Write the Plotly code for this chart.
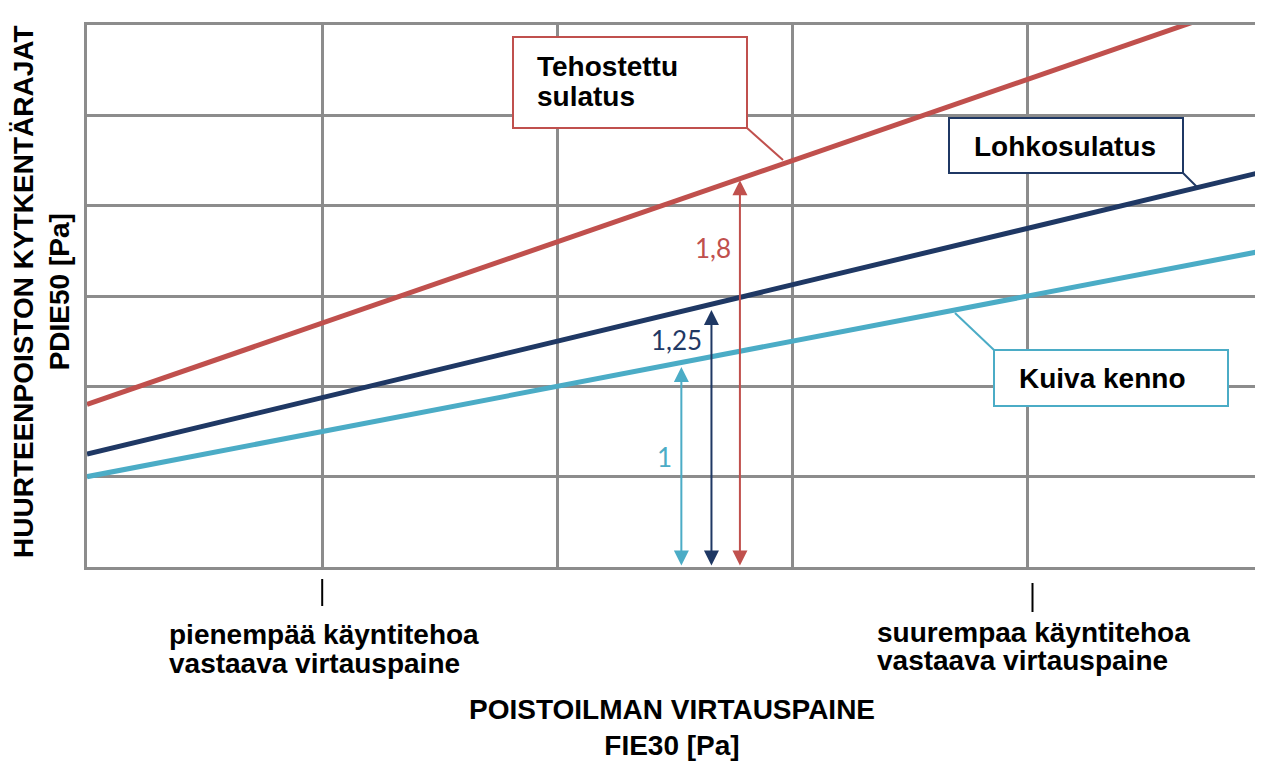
import plotly.graph_objects as go

# ---- data ----
x_ends = [0, 5]
kuiva_kenno = [1.0, 3.5]
lohkosulatus = [1.25, 4.375]
tehostettu = [1.8, 6.3]

arrow_x = [2.527, 2.655, 2.776]
arrow_top = [2.214, 2.845, 4.28]
arrow_labels = ["1", "1,25", "1,8"]
label_x = [2.457, 2.507, 2.66]
label_y = [1.22, 2.51, 3.53]

marker_x = [1.0, 4.02]

C_RED = "#C0504D"
C_NAVY = "#1F3864"
C_CYAN = "#4BACC6"
GRID = "#8c8c8c"

# the page adds an 8px body margin; compensate so positions match the window
OFF = 8
W, H = 1263 - OFF, 761 - OFF
L, R, T, B = 87 - OFF, 0, 25 - OFF, 761 - 567
PW, PH = W - L - R, H - T - B
XR, YR = (0, 5), (0, 6)


# helpers take window pixel coordinates (as measured on the reference)
def dx(px):
    return XR[0] + (px - OFF - L) / PW * (XR[1] - XR[0])


def dy(py):
    return YR[0] + (T + PH - (py - OFF)) / PH * (YR[1] - YR[0])


def py_paper(py):
    return (T + PH - (py - OFF)) / PH


def pxp(px):
    return (px - OFF - L) / PW


fig = go.Figure()
for ys, col, name in [(kuiva_kenno, C_CYAN, "Kuiva kenno"),
                      (lohkosulatus, C_NAVY, "Lohkosulatus"),
                      (tehostettu, C_RED, "Tehostettu sulatus")]:
    fig.add_trace(go.Scatter(x=x_ends, y=ys, mode="lines", name=name,
                             line=dict(color=col, width=5), hoverinfo="skip"))

shapes = []
annotations = []

FAM = "Liberation Sans, Arial, sans-serif"
BOLD = dict(family=FAM, size=28, color="black")
TITLE = dict(family=FAM, size=28, color="black")

# callout boxes: (x0, y0, x1, y1) in pixels, colour, connector from, connector to
boxes = [
    ((513, 37, 747, 128), C_RED, (747, 128), (783, 160)),
    ((949, 118, 1183, 173), C_NAVY, (1183, 173), (1198, 188)),
    ((994, 350, 1228, 406), C_CYAN, (994, 350), (955, 313)),
]
for (x0, y0, x1, y1), col, (ax0, ay0), (ax1, ay1) in boxes:
    shapes.append(dict(type="line", xref="x", yref="y",
                       x0=dx(ax0), y0=dy(ay0), x1=dx(ax1), y1=dy(ay1),
                       line=dict(color=col, width=2), layer="above"))
    shapes.append(dict(type="rect", xref="x", yref="y",
                       x0=dx(x0), y0=dy(y0), x1=dx(x1), y1=dy(y1),
                       line=dict(color=col, width=2), fillcolor="white",
                       layer="above"))

box_texts = [("Tehostettu", 535, 67), ("sulatus", 535, 97),
             ("Lohkosulatus", 972, 146), ("Kuiva kenno", 1017, 378)]
for txt, px, py in box_texts:
    annotations.append(dict(text="<b>%s</b>" % txt, xref="paper", yref="paper",
                            x=pxp(px), y=py_paper(py), xanchor="left",
                            yanchor="middle", showarrow=False, font=BOLD))

# double-headed arrows
for xa, top, col in zip(arrow_x, arrow_top, [C_CYAN, C_NAVY, C_RED]):
    annotations.append(dict(x=xa, y=top, ax=xa, ay=0.0, xref="x", yref="y",
                            axref="x", ayref="y", text="", showarrow=True,
                            arrowhead=2, startarrowhead=2, arrowside="end+start",
                            arrowsize=1.5, startarrowsize=1.5, arrowwidth=2,
                            arrowcolor=col, standoff=0, startstandoff=0))
for lx, ly, txt, col in zip(label_x, label_y, arrow_labels, [C_CYAN, C_NAVY, C_RED]):
    annotations.append(dict(x=lx, y=ly, xref="x", yref="y", text=txt,
                            showarrow=False, font=dict(family="Lato, sans-serif",
                                                      size=26, color=col)))

# markers below the axis
for mx, (y0, y1) in zip(marker_x, [(579, 606), (583, 612)]):
    shapes.append(dict(type="line", xref="x", yref="paper", x0=mx, x1=mx,
                       y0=py_paper(y0), y1=py_paper(y1),
                       line=dict(color="black", width=2)))

below_texts = [("pienempää käyntitehoa", 167, 634), ("vastaava virtauspaine", 167, 663),
               ("suurempaa käyntitehoa", 875, 632), ("vastaava virtauspaine", 875, 660)]
for txt, px, py in below_texts:
    annotations.append(dict(text="<b>%s</b>" % txt, xref="paper", yref="paper",
                            x=pxp(px), y=py_paper(py), xanchor="left",
                            yanchor="middle", showarrow=False, font=BOLD))

# axis titles (two-line, single text each)
annotations.append(dict(text="<b>POISTOILMAN VIRTAUSPAINE<br>FIE30 [Pa]</b>",
                        xref="paper", yref="paper", x=pxp(672), y=py_paper(728),
                        xanchor="center", yanchor="middle", align="center",
                        showarrow=False, font=TITLE))
annotations.append(dict(text="<b>HUURTEENPOISTON KYTKENTÄRAJAT<br>PDIE50 [Pa]</b>",
                        xref="paper", yref="paper", x=pxp(41), y=py_paper(292),
                        xanchor="center", yanchor="middle", align="center",
                        textangle=-90, showarrow=False, font=TITLE))

axis_common = dict(showticklabels=False, ticks="", showgrid=True, gridcolor=GRID,
                   gridwidth=2.5, zeroline=False, showline=True, linecolor=GRID,
                   linewidth=2.5, dtick=1, fixedrange=True)

fig.update_layout(
    width=W, height=H, autosize=False,
    margin=dict(l=L, r=R, t=T, b=B, pad=0),
    paper_bgcolor="white", plot_bgcolor="white",
    showlegend=False,
    xaxis=dict(range=list(XR), tick0=0, mirror=True, **axis_common),
    yaxis=dict(range=list(YR), tick0=0, mirror=False, **axis_common),
    shapes=shapes, annotations=annotations,
)

fig.write_html("out.html")
